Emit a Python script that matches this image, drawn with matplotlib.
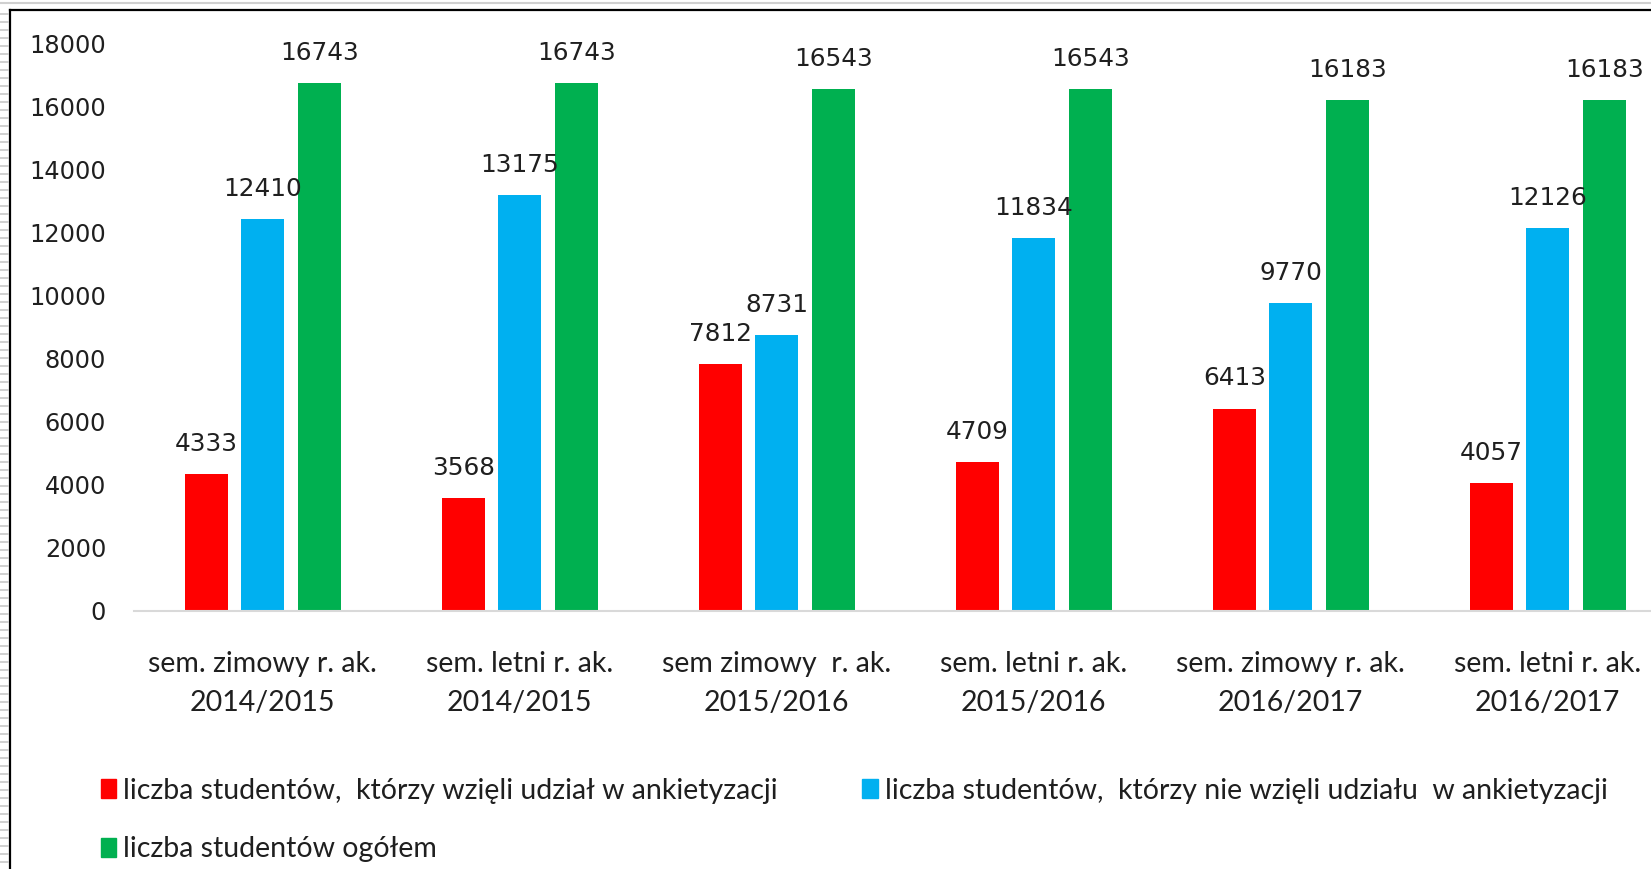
import numpy as np
import matplotlib.pyplot as plt
from matplotlib.lines import Line2D
from matplotlib.patches import Patch

# data
categories = [
    "sem. zimowy r. ak.\n2014/2015",
    "sem. letni r. ak.\n2014/2015",
    "sem zimowy  r. ak.\n2015/2016",
    "sem. letni r. ak.\n2015/2016",
    "sem. zimowy r. ak.\n2016/2017",
    "sem. letni r. ak.\n2016/2017",
]
took_part = [4333, 3568, 7812, 4709, 6413, 4057]
not_took_part = [12410, 13175, 8731, 11834, 9770, 12126]
total = [16743, 16743, 16543, 16543, 16183, 16183]
series_names = [
    "liczba studentów,  którzy wzięli udział w ankietyzacji",
    "liczba studentów,  którzy nie wzięli udziału  w ankietyzacji",
    "liczba studentów ogółem",
]
y_ticks = [0, 2000, 4000, 6000, 8000, 10000, 12000, 14000, 16000, 18000]

colors = ["#FF0000", "#00B0F0", "#00B050"]
text_col = "#1F1F1F"
W, H = 1651, 869

fig = plt.figure(figsize=(W / 100, H / 100), dpi=100)
ax = fig.add_axes([134 / W, 1 - 610.7 / H, 1542 / W, (610.7 - 43.2) / H])

x = np.arange(len(categories))
bw = 0.17
offsets = [-0.218, 0.0, 0.222]
for vals, off, col in zip([took_part, not_took_part, total], offsets, colors):
    bars = ax.bar(x + off, vals, width=bw, color=col, zorder=2)
    ax.bar_label(bars, labels=[str(v) for v in vals], padding=13,
                 fontsize=17.8, color=text_col, family="DejaVu Sans")

ax.set_xlim(-0.5, 5.5)
ax.set_ylim(0, 18000)
ax.set_yticks(y_ticks)
ax.set_yticklabels([str(t) for t in y_ticks], fontsize=17.3, color=text_col,
                   family="DejaVu Sans")
ax.set_xticks(x)
ax.set_xticklabels(categories, fontsize=20.5, color=text_col, family="Lato",
                   linespacing=1.6)
ax.tick_params(axis="y", length=0, pad=20)
ax.tick_params(axis="x", length=0, pad=29)
for s in ["top", "right", "left"]:
    ax.spines[s].set_visible(False)
ax.spines["bottom"].set_color("#D9D9D9")
ax.spines["bottom"].set_linewidth(1.5)

# legend, row-major order like the original
handles = [Patch(color=c) for c in colors]
order = [0, 2, 1]
fig.legend([handles[i] for i in order], [series_names[i] for i in order],
           ncol=2, loc="upper left", bbox_to_anchor=(75 / W, 1 - 752 / H),
           frameon=False, handlelength=0.55, handleheight=0.65,
           handletextpad=0.25, columnspacing=2.95, labelspacing=1.15,
           prop={"family": "Lato", "size": 20.5}, labelcolor=text_col)

# frame of the screenshot
fig.add_artist(Line2D([0, 1], [1 - 3 / H, 1 - 3 / H], transform=fig.transFigure,
                      color="#D0D0D0", lw=1.5))
fig.add_artist(Line2D([10 / W, 1], [1 - 10 / H, 1 - 10 / H], transform=fig.transFigure,
                      color="black", lw=1.6))
fig.add_artist(Line2D([10 / W, 10 / W], [0, 1 - 10 / H], transform=fig.transFigure,
                      color="black", lw=1.6))
for yy in np.arange(14, H, 8):
    fig.add_artist(Line2D([0, 8 / W], [1 - yy / H, 1 - yy / H],
                          transform=fig.transFigure, color="#C8C8C8", lw=1.2))

fig.savefig("out.png", dpi=100)
